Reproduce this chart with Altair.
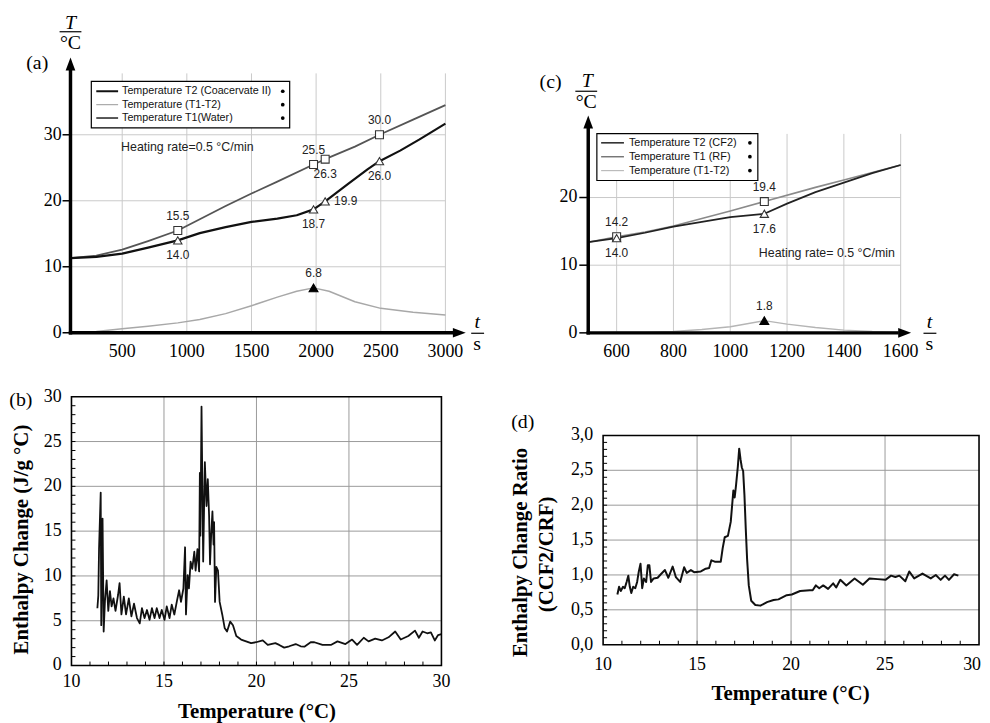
import altair as alt
import pandas as pd

# ---------------- panel (a): temperature vs time ----------------
a_T1_t = [100, 300, 500, 700, 930, 1100, 1300, 1500, 1700, 1980, 2070, 2300, 2490, 2750, 3000]
a_T1_v = [11.3, 11.7, 12.6, 13.9, 15.5, 17.2, 19.2, 21.1, 22.9, 25.5, 26.3, 28.2, 30.0, 32.3, 34.5]
a_T2_t = [100, 300, 500, 700, 930, 1100, 1300, 1500, 1700, 1850, 1980, 2070, 2250, 2400, 2490, 2650, 2800, 3000]
a_T2_v = [11.3, 11.5, 12.0, 12.9, 14.0, 15.1, 16.0, 16.8, 17.3, 17.8, 18.7, 19.9, 22.6, 24.8, 26.0, 27.6, 29.3, 31.7]
a_D_t = [100, 300, 500, 700, 930, 1100, 1300, 1500, 1700, 1850, 1980, 2100, 2300, 2500, 2750, 3000]
a_D_v = [0.0, 0.2, 0.6, 1.0, 1.5, 2.0, 2.9, 4.1, 5.4, 6.3, 6.8, 6.3, 4.7, 3.7, 3.1, 2.7]
a_sq_t = [930, 1980, 2070, 2490]
a_sq_v = [15.5, 25.5, 26.3, 30.0]
a_sq_side = ["above", "above", "below", "above"]
a_tri_t = [930, 1980, 2070, 2490]
a_tri_v = [14.0, 18.7, 19.9, 26.0]
a_tri_side = ["below", "below", "right", "below"]
a_pk_t = [1980]
a_pk_v = [6.8]
a_pk_side = ["above"]
a_xticks = [500, 1000, 1500, 2000, 2500, 3000]
a_yticks = [0, 10, 20, 30]
a_legend = ["Temperature T2 (Coacervate II)", "Temperature (T1-T2)", "Temperature T1(Water)"]
a_note = "Heating rate=0.5  \u00b0C/min"

# ---------------- panel (c): temperature vs time ----------------
c_T2_t = [500, 600, 700, 800, 900, 1000, 1120, 1200, 1300, 1400, 1500, 1600]
c_T2_v = [13.4, 14.0, 14.8, 15.7, 16.4, 17.1, 17.6, 19.1, 20.8, 22.2, 23.6, 24.8]
c_T1_t = [500, 600, 700, 800, 900, 1000, 1120, 1300, 1400, 1500, 1600]
c_T1_v = [13.4, 14.2, 14.9, 15.8, 16.9, 18.0, 19.4, 21.5, 22.6, 23.7, 24.8]
c_D_t = [500, 600, 700, 800, 900, 1000, 1120, 1200, 1300, 1400, 1500, 1600]
c_D_v = [0.0, 0.1, 0.1, 0.2, 0.5, 0.9, 1.8, 1.3, 0.8, 0.4, 0.2, 0.1]
c_sq_t = [600, 1120]
c_sq_v = [14.2, 19.4]
c_sq_side = ["above", "above"]
c_tri_t = [600, 1120]
c_tri_v = [14.0, 17.6]
c_tri_side = ["below", "below"]
c_pk_t = [1120]
c_pk_v = [1.8]
c_pk_side = ["above"]
c_xticks = [600, 800, 1000, 1200, 1400, 1600]
c_yticks = [0, 10, 20]
c_legend = ["Temperature T2 (CF2)", "Temperature T1 (RF)", "Temperature (T1-T2)"]
c_note = "Heating rate= 0.5  \u00b0C/min"

# ---------------- panel (b): enthalpy change ----------------
b_T = [11.40, 11.45, 11.49, 11.58, 11.61, 11.68, 11.74, 11.81, 11.90, 11.99,
       12.08, 12.17, 12.27, 12.38, 12.52, 12.60, 12.70, 12.83, 12.95, 13.10,
       13.24, 13.38, 13.54, 13.69, 13.81, 13.95, 14.08, 14.22, 14.35, 14.49,
       14.61, 14.76, 14.88, 15.03, 15.15, 15.30, 15.42, 15.56, 15.71, 15.82,
       15.92, 16.05, 16.14, 16.19, 16.28, 16.35, 16.44, 16.53, 16.64, 16.71,
       16.81, 16.90, 16.94, 16.97, 17.03, 17.12, 17.21, 17.30, 17.37, 17.44,
       17.49, 17.55, 17.62, 17.68, 17.71, 17.76, 17.83, 17.92, 18.01, 18.15,
       18.28, 18.41, 18.58, 18.73, 18.91, 19.17, 19.44, 19.71, 19.98, 20.34,
       20.61, 21.02, 21.23, 21.50, 21.77, 22.12, 22.39, 22.59, 22.93, 23.13,
       23.57, 24.02, 24.38, 24.81, 25.17, 25.44, 25.80, 26.06, 26.42, 26.78,
       27.14, 27.50, 27.80, 28.21, 28.57, 28.78, 28.98, 29.23, 29.43, 29.64,
       29.82, 30.0]
b_H = [6.4, 7.8, 13.0, 19.3, 4.5, 16.4, 3.8, 7.2, 9.5, 6.1,
       8.3, 6.6, 7.5, 6.1, 7.9, 9.2, 5.7, 7.7, 5.7, 7.5,
       5.5, 6.9, 5.3, 4.7, 6.4, 5.3, 6.2, 5.1, 6.4, 5.3,
       6.4, 5.3, 6.2, 5.1, 6.6, 5.3, 6.8, 5.7, 7.3, 8.4,
       7.1, 8.6, 13.2, 5.7, 10.1, 8.6, 11.6, 10.8, 12.7, 10.6,
       13.0, 10.5, 21.5, 14.5, 28.9, 11.6, 22.7, 17.8, 20.8, 16.7,
       11.3, 14.5, 17.2, 13.5, 16.0, 7.1, 11.0, 10.6, 7.1, 5.7,
       4.2, 3.8, 4.9, 4.5, 3.3, 2.9, 2.7, 2.5, 2.6, 2.8,
       2.3, 2.5, 2.3, 2.0, 2.15, 2.4, 2.15, 2.1, 2.6, 2.6,
       2.3, 2.3, 2.7, 2.4, 2.9, 2.3, 3.1, 2.7, 3.0, 2.8,
       3.15, 3.8, 2.9, 3.3, 3.9, 3.1, 3.8, 3.6, 3.7, 2.8,
       3.4, 3.5]
b_xticks = [10, 15, 20, 25, 30]
b_yticks = [0, 5, 10, 15, 20, 25, 30]
b_minor_x = list(range(11, 30))
b_minor_y = list(range(1, 30))

# ---------------- panel (d): enthalpy change ratio ----------------
d_T = [10.76, 10.85, 10.94, 11.06, 11.15, 11.25, 11.34, 11.42, 11.50, 11.60,
       11.71, 11.81, 11.90, 11.99, 12.08, 12.17, 12.29, 12.38, 12.46, 12.55,
       12.69, 12.90, 13.07, 13.29, 13.47, 13.70, 13.87, 14.10, 14.31, 14.45,
       14.67, 14.84, 15.20, 15.46, 15.64, 15.76, 15.94, 16.26, 16.36, 16.47,
       16.64, 16.79, 16.93, 17.00, 17.07, 17.17, 17.24, 17.31, 17.38, 17.45,
       17.52, 17.59, 17.66, 17.75, 17.88, 18.10, 18.37, 18.72, 19.07, 19.33,
       19.77, 20.04, 20.48, 21.00, 21.15, 21.32, 21.50, 21.71, 21.97, 22.24,
       22.40, 22.62, 22.94, 23.38, 23.82, 24.17, 24.61, 25.02, 25.32, 25.55,
       25.76, 26.08, 26.29, 26.55, 26.99, 27.43, 27.70, 27.96, 28.19, 28.40,
       28.67, 28.90]
d_R = [0.72, 0.83, 0.77, 0.83, 0.81, 0.90, 0.99, 0.83, 0.74, 0.83,
       0.81, 0.90, 1.05, 1.16, 0.81, 0.95, 0.90, 1.14, 1.14, 0.90,
       0.95, 0.96, 1.01, 1.07, 0.96, 1.12, 0.97, 0.90, 1.11, 1.03,
       1.07, 1.04, 1.05, 1.09, 1.10, 1.21, 1.19, 1.19, 1.38, 1.54,
       1.56, 1.76, 2.21, 2.11, 2.28, 2.56, 2.81, 2.66, 2.54, 2.49,
       2.14, 1.66, 1.23, 0.85, 0.63, 0.57, 0.56, 0.61, 0.64, 0.65,
       0.71, 0.72, 0.77, 0.78, 0.78, 0.85, 0.81, 0.85, 0.80, 0.88,
       0.82, 0.93, 0.85, 0.95, 0.86, 0.95, 0.94, 0.93, 0.99, 0.97,
       0.99, 0.91, 1.05, 0.95, 1.02, 0.95, 1.00, 0.93, 0.99, 0.93,
       1.01, 0.99]
d_xticks = [10, 15, 20, 25, 30]
d_yticks = [0.0, 0.5, 1.0, 1.5, 2.0, 2.5, 3.0]
d_minor_x = list(range(11, 30))
d_minor_y = [round(0.1 * i, 1) for i in range(1, 30)]

# ---------------- helpers ----------------
SERIF = "Liberation Serif"
SANS = "Liberation Sans"
GRID_AC = "#c9c9c9"
GRID_BD = "#9a9a9a"
DUMMY = pd.DataFrame({"d": [0]})
ARROW_UP = "M0,-1L0.75,1L-0.75,1Z"
ARROW_RIGHT = "M1,0L-1,0.75L-1,-0.75Z"


def X(x):
    return x - 8


def Y(y):
    return y - 8


def txt(s, x, y, size, font=SERIF, style="normal", weight="normal", align="center", angle=0, color="black"):
    kw = dict(text=s, fontSize=size, font=font, fontStyle=style, fontWeight=weight,
              align=align, baseline="middle", color=color)
    if angle:
        kw["angle"] = angle
    return alt.Chart(DUMMY).mark_text(**kw).encode(x=alt.value(X(x)), y=alt.value(Y(y)))


def seg(x1, y1, x2, y2, w=1.0, color="black"):
    return alt.Chart(DUMMY).mark_rule(strokeWidth=w, color=color).encode(
        x=alt.value(X(x1)), x2=alt.value(X(x2)), y=alt.value(Y(y1)), y2=alt.value(Y(y2)))


def sym(x, y, shape, size, color="black"):
    return alt.Chart(DUMMY).mark_point(shape=shape, size=size, filled=True, color=color, opacity=1).encode(
        x=alt.value(X(x)), y=alt.value(Y(y)))


def line(ts, vs, sx, sy, color, width):
    df = pd.DataFrame({"t": ts, "v": vs})
    return alt.Chart(df).mark_line(color=color, strokeWidth=width, strokeJoin="round").encode(
        x=alt.X("t:Q", scale=sx, axis=None), y=alt.Y("v:Q", scale=sy, axis=None))


def markers(ts, vs, sides, sx, sy, shape, fill, stroke, size):
    df = pd.DataFrame({"t": ts, "v": vs, "side": sides})
    base = alt.Chart(df).encode(x=alt.X("t:Q", scale=sx, axis=None), y=alt.Y("v:Q", scale=sy, axis=None))
    out = [base.mark_point(shape=shape, filled=True, fill=fill, stroke=stroke, strokeWidth=1.1,
                           size=size, opacity=1)]
    for side, dx, dy, align in [("above", 0, -15, "center"), ("below", 0, 15, "center"), ("right", 9, 0, "left")]:
        out.append(base.transform_filter(alt.datum.side == side).mark_text(
            dx=dx, dy=dy, align=align, baseline="middle", font=SANS, fontSize=12, color="#222"
        ).encode(text=alt.Text("v:Q", format=".1f")))
    return out


def vgrid(vals, sx, y1, y2, color):
    return alt.Chart(pd.DataFrame({"t": vals})).mark_rule(color=color, strokeWidth=1).encode(
        x=alt.X("t:Q", scale=sx, axis=None), y=alt.value(Y(y1)), y2=alt.value(Y(y2)))


def hgrid(vals, sy, x1, x2, color, w=1.0):
    return alt.Chart(pd.DataFrame({"v": vals})).mark_rule(color=color, strokeWidth=w).encode(
        y=alt.Y("v:Q", scale=sy, axis=None), x=alt.value(X(x1)), x2=alt.value(X(x2)))


def xlabels(vals, sx, y, size, fmt="d", align="center", dx=0):
    return alt.Chart(pd.DataFrame({"t": vals})).mark_text(
        font=SERIF, fontSize=size, baseline="middle", align=align, dx=dx).encode(
        x=alt.X("t:Q", scale=sx, axis=None), y=alt.value(Y(y)), text=alt.Text("t:Q", format=fmt))


def ylabels(vals, sy, xr, size, comma=False):
    ch = alt.Chart(pd.DataFrame({"v": vals}))
    if comma:
        ch = ch.transform_calculate(lab="replace(format(datum.v, '.1f'), '.', ',')")
        tx = alt.Text("lab:N")
    else:
        tx = alt.Text("v:Q", format="d")
    return ch.mark_text(font=SERIF, fontSize=size, align="right", baseline="middle").encode(
        y=alt.Y("v:Q", scale=sy, axis=None), x=alt.value(X(xr)), text=tx)


def legend(labels, colors, widths, x1, y1, x2, y2, rows, lx1, lx2, tx, dotx, size):
    out = [alt.Chart(DUMMY).mark_rect(fill="white", stroke="black", strokeWidth=1.2).encode(
        x=alt.value(X(x1)), x2=alt.value(X(x2)), y=alt.value(Y(y1)), y2=alt.value(Y(y2)))]
    for lab, col, w, ry in zip(labels, colors, widths, rows):
        out.append(seg(lx1, ry, lx2, ry, w, col))
        out.append(txt(lab, tx, ry, size, font=SANS, align="left", color="#111"))
        out.append(sym(dotx, ry, "circle", 14))
    return out


# ---------------- panel (a) ----------------
sxA = alt.Scale(domain=[100, 3000], range=[X(71), X(449)], nice=False, zero=False)
syA = alt.Scale(domain=[0, 39.3], range=[Y(332.5), Y(71)], nice=False, zero=False)
A = [
    vgrid(a_xticks, sxA, 71, 332.5, GRID_AC),
    hgrid([v for v in a_yticks if v > 0], syA, 71, 449, GRID_AC),
    *legend(a_legend, ["#111111", "#a8a8a8", "#555555"], [2.0, 1.2, 2.0],
            92, 79, 292, 126, [89, 102.5, 116], 97, 119, 123, 285, 10.8),
    txt(a_note, 122, 145, 12.5, font=SANS, align="left", color="#222"),
    line(a_D_t, a_D_v, sxA, syA, "#a8a8a8", 1.5),
    line(a_T1_t, a_T1_v, sxA, syA, "#555555", 1.8),
    line(a_T2_t, a_T2_v, sxA, syA, "#111111", 2.2),
    *markers(a_sq_t, a_sq_v, a_sq_side, sxA, syA, "square", "white", "#333", 64),
    *markers(a_tri_t, a_tri_v, a_tri_side, sxA, syA, "triangle-up", "white", "#333", 70),
    *markers(a_pk_t, a_pk_v, a_pk_side, sxA, syA, "triangle-up", "black", "black", 80),
    seg(71, 334.2, 71, 63, 3.5),
    sym(71, 61.5, ARROW_UP, 169),
    seg(69.3, 332.5, 457, 332.5, 3.5),
    sym(463, 332.5, ARROW_RIGHT, 169),
    alt.Chart(pd.DataFrame({"v": a_yticks})).mark_rule(strokeWidth=1.5, color="black").encode(
        y=alt.Y("v:Q", scale=syA, axis=None), x=alt.value(X(63)), x2=alt.value(X(71))),
    ylabels(a_yticks, syA, 62, 18),
    xlabels(a_xticks, sxA, 352, 18),
    txt("T", 71, 20, 20, style="italic"),
    seg(60, 29, 82, 29, 1.2),
    txt("\u00b0C", 71, 40, 20),
    txt("(a)", 37.5, 61, 20),
    txt("t", 481, 322, 20, style="italic"),
    seg(475, 333, 488, 333, 1.2),
    txt("s", 481, 344, 20),
]
panelA = alt.layer(*A)

# ---------------- panel (c) ----------------
sxC = alt.Scale(domain=[500, 1600], range=[X(593), X(908)], nice=False, zero=False)
syC = alt.Scale(domain=[0, 29.4], range=[Y(332.6), Y(132)], nice=False, zero=False)
C = [
    vgrid(c_xticks, sxC, 132, 332.6, GRID_AC),
    hgrid([v for v in c_yticks if v > 0], syC, 593, 908, GRID_AC),
    line(c_D_t, c_D_v, sxC, syC, "#b5b5b5", 1.4),
    line(c_T1_t, c_T1_v, sxC, syC, "#8a8a8a", 1.6),
    line(c_T2_t, c_T2_v, sxC, syC, "#222222", 1.7),
    *legend(c_legend, ["#222222", "#777777", "#bbbbbb"], [1.5, 1.5, 1.2],
            601.7, 131.7, 764, 179, [141, 155, 169], 606, 629, 634, 756, 11),
    txt(c_note, 765, 252, 12.5, font=SANS, align="left", color="#222"),
    *markers(c_sq_t, c_sq_v, c_sq_side, sxC, syC, "square", "white", "#333", 64),
    *markers(c_tri_t, c_tri_v, c_tri_side, sxC, syC, "triangle-up", "white", "#333", 70),
    *markers(c_pk_t, c_pk_v, c_pk_side, sxC, syC, "triangle-up", "black", "black", 80),
    seg(593, 334.3, 593, 122, 3.5),
    sym(593, 120, ARROW_UP, 169),
    seg(591.3, 332.6, 906, 332.6, 3.5),
    sym(912, 332.6, ARROW_RIGHT, 169),
    alt.Chart(pd.DataFrame({"v": c_yticks})).mark_rule(strokeWidth=1.5, color="black").encode(
        y=alt.Y("v:Q", scale=syC, axis=None), x=alt.value(X(584)), x2=alt.value(X(593))),
    ylabels(c_yticks, syC, 582, 18),
    xlabels(c_xticks, sxC, 352, 18),
    txt("T", 592, 79, 20, style="italic"),
    seg(580, 89, 602, 89, 1.2),
    txt("\u00b0C", 591, 100, 20),
    txt("(c)", 555, 80, 20),
    txt("t", 937, 322, 20, style="italic"),
    seg(931, 333, 944, 333, 1.2),
    txt("s", 937, 344, 20),
]
panelC = alt.layer(*C)

# ---------------- panel (b) ----------------
sxB = alt.Scale(domain=[10, 30], range=[X(72), X(445)], nice=False, zero=False)
syB = alt.Scale(domain=[0, 30], range=[Y(668), Y(397)], nice=False, zero=False)
B = [
    vgrid(b_xticks[1:-1], sxB, 397, 668, GRID_BD),
    hgrid(b_yticks[1:-1], syB, 72, 445, GRID_BD),
    alt.Chart(pd.DataFrame({"t": b_minor_x})).mark_rule(color="black", strokeWidth=1).encode(
        x=alt.X("t:Q", scale=sxB, axis=None), y=alt.value(Y(668)), y2=alt.value(Y(664))),
    alt.Chart(pd.DataFrame({"v": b_minor_y})).mark_rule(color="black", strokeWidth=1).encode(
        y=alt.Y("v:Q", scale=syB, axis=None), x=alt.value(X(72)), x2=alt.value(X(76))),
    line(b_T, b_H, sxB, syB, "#111111", 1.8),
    alt.Chart(DUMMY).mark_rect(fillOpacity=0, stroke="black", strokeWidth=1.6).encode(
        x=alt.value(X(72)), x2=alt.value(X(445)), y=alt.value(Y(397)), y2=alt.value(Y(668))),
    ylabels(b_yticks, syB, 62, 18),
    xlabels(b_xticks, sxB, 685, 18),
    txt("Enthalpy Change (J/g \u00b0C)", 22, 541, 21, weight="bold", angle=270),
    txt("Temperature (\u00b0C)", 259, 715, 21, weight="bold"),
    txt("(b)", 21, 400, 20),
]
panelB = alt.layer(*B)

# ---------------- panel (d) ----------------
sxD = alt.Scale(domain=[10, 30], range=[X(608), X(987)], nice=False, zero=False)
syD = alt.Scale(domain=[0, 3], range=[Y(647), Y(436)], nice=False, zero=False)
D = [
    vgrid(d_xticks[1:-1], sxD, 436, 647, GRID_BD),
    hgrid(d_yticks[1:-1], syD, 608, 987, GRID_BD),
    alt.Chart(pd.DataFrame({"t": d_minor_x})).mark_rule(color="black", strokeWidth=1).encode(
        x=alt.X("t:Q", scale=sxD, axis=None), y=alt.value(Y(647)), y2=alt.value(Y(643))),
    alt.Chart(pd.DataFrame({"v": d_minor_y})).mark_rule(color="black", strokeWidth=1).encode(
        y=alt.Y("v:Q", scale=syD, axis=None), x=alt.value(X(608)), x2=alt.value(X(612))),
    line(d_T, d_R, sxD, syD, "#111111", 2.0),
    alt.Chart(DUMMY).mark_rect(fillOpacity=0, stroke="black", strokeWidth=1.6).encode(
        x=alt.value(X(608)), x2=alt.value(X(987)), y=alt.value(Y(436)), y2=alt.value(Y(647))),
    ylabels(d_yticks, syD, 598, 18, comma=True),
    xlabels(d_xticks[:-1], sxD, 668, 18),
    xlabels(d_xticks[-1:], sxD, 668, 18, align="right", dx=2),
    txt("Enthalpy Change Ratio", 525, 554, 21, weight="bold", angle=270),
    txt("(CCF2/CRF)", 551, 556, 21, weight="bold", angle=270),
    txt("Temperature (\u00b0C)", 797, 697, 21, weight="bold"),
    txt("(d)", 527, 423, 20),
]
panelD = alt.layer(*D)

chart = alt.layer(panelA, panelC, panelB, panelD).resolve_scale(
    x="independent", y="independent"
).properties(
    width=982, height=715, padding=0, autosize=alt.AutoSizeParams(type="none")
).configure_view(stroke=None)

chart.save("out.html", embed_options={"renderer": "svg", "actions": False})
